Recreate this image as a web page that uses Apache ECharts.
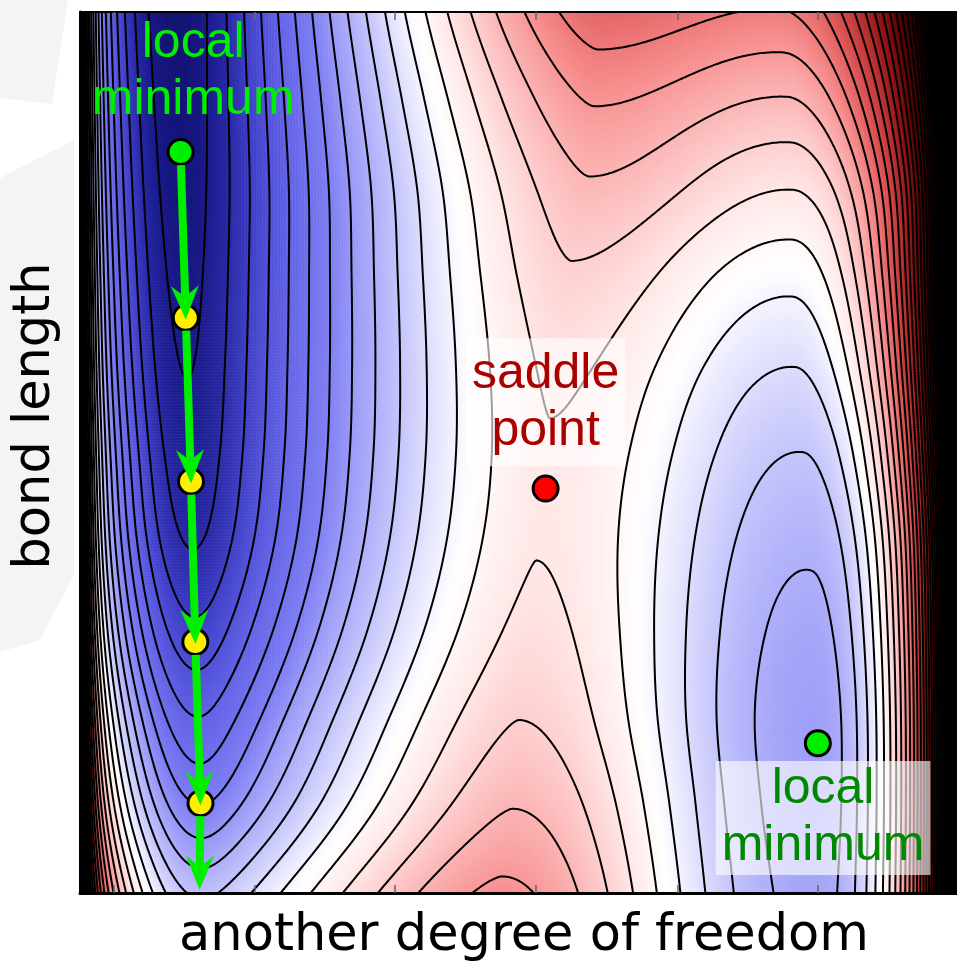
<!DOCTYPE html>
<html>
<head>
<meta charset="utf-8">
<script src="https://cdn.jsdelivr.net/npm/echarts@6/dist/echarts.min.js"></script>
<style>
  html, body { margin: 0; padding: 0; background: #ffffff; }
  #chart { width: 957px; height: 963px; }
</style>
</head>
<body>
<div id="chart"></div>
<script>
// ---------------------------------------------------------------------------
// Potential energy landscape, described row by row (v = bond length, 0 at the
// bottom of the frame, 1 at the top; u = the other coordinate, 0 left, 1 right).
// Each row is pinned by a left basin, a barrier ridge and a right basin.
// ---------------------------------------------------------------------------
const rowV = [0, 0.1, 0.2, 0.3, 0.4, 0.5, 0.6, 0.7, 0.8, 0.9, 1.0];

// deep basin on the left: floor position and floor energy
const leftFloorU = [0.140, 0.139, 0.136, 0.133, 0.130, 0.127, 0.123, 0.120, 0.117, 0.114, 0.111];
const leftFloorE = [-4.2, -7.0, -9.0, -10.8, -12.1, -12.7, -13.05, -13.3, -13.5, -13.65, -13.8];

// barrier ridge through the saddle
const ridgeU = [0.483, 0.499, 0.506, 0.518, 0.528, 0.538, 0.548, 0.563, 0.585, 0.593, 0.600];
const ridgeE = [3.25, 1.95, 0.97, 0.30, -0.05, -0.07, 0.21, 0.85, 1.85, 3.1, 4.7];

// shallow basin on the right
const rightFloorU = [0.853, 0.852, 0.850, 0.847, 0.843, 0.835, 0.825, 0.821, 0.822, 0.815, 0.805];
const rightFloorE = [-5.45, -5.65, -5.7, -5.4, -4.85, -4.05, -3.0, -1.7, 0.0, 1.9, 3.9];

// bend radius of the repulsive walls beside each basin
const leftWallC = [0.150, 0.150, 0.148, 0.145, 0.140, 0.138, 0.138, 0.138, 0.138, 0.138, 0.138];
const rightWallC = [0.161, 0.163, 0.167, 0.175, 0.185, 0.195, 0.218, 0.241, 0.270, 0.287, 0.299];

// stationary points and the descent path
const pathU = [0.116, 0.122, 0.128, 0.133, 0.139];
const pathV = [0.841, 0.653, 0.467, 0.285, 0.102];
const pathEnd = [0.138, 0.006];
const saddlePoint = [0.537, 0.459];
const rightMinimum = [0.851, 0.170];

// contour levels and tick marks
const contourLevels = [];
for (let L = -13; L <= 60; L++) contourLevels.push(L);
const xTickAt = [0.039, 0.201, 0.363, 0.526, 0.689, 0.851];

// colour scale: energy -> rgb
const palette = [
  [-13.8, [20, 20, 115]], [-13, [26, 26, 140]], [-12, [40, 40, 166]],
  [-11, [60, 60, 196]], [-10, [80, 80, 216]], [-9, [98, 98, 230]],
  [-7, [125, 125, 244]], [-5.5, [162, 162, 249]], [-4, [195, 195, 252]],
  [-2.5, [232, 232, 254]], [-1.5, [255, 255, 255]], [0, [255, 230, 230]],
  [1.5, [253, 195, 195]], [3.2, [248, 145, 145]], [4.5, [232, 108, 108]],
  [6, [212, 72, 72]], [9, [150, 25, 25]], [12, [90, 5, 5]],
  [16, [30, 0, 0]], [20, [0, 0, 0]]
];

// shape constants of the landscape model
const WALL_SLOPE = 217;      // energy per unit u far up a wall
const FLOOR_SOFT = 0.08;     // rounding of the left basin floor
const LEFT_SHAPE = 1.45;     // exponent of the rise from left basin to ridge
const EDGE_L = [12, 0.012];  // extra stiffness at the left border
const EDGE_R = [12, 0.03];   // extra stiffness at the right border
const U_MAX = 880 / 870;     // the frame runs a little past u = 1 on the right

function interpRow(arr, v) {
  const n = arr.length, h = 1 / (n - 1);
  let k = Math.floor(v / h);
  if (k < 0) k = 0;
  if (k > n - 2) k = n - 2;
  const t = (v - k * h) / h;
  const p1 = arr[k], p2 = arr[k + 1];
  const p0 = k > 0 ? arr[k - 1] : 2 * p1 - p2;
  const p3 = k + 2 < n ? arr[k + 2] : 2 * p2 - p1;
  const t2 = t * t, t3 = t2 * t;
  return 0.5 * (2 * p1 + (-p0 + p2) * t + (2 * p0 - 5 * p1 + 4 * p2 - p3) * t2 +
    (-p0 + 3 * p1 - 3 * p2 + p3) * t3);
}

function rowAt(v) {
  return {
    uL: interpRow(leftFloorU, v), fL: interpRow(leftFloorE, v),
    uR: interpRow(ridgeU, v), fR: interpRow(ridgeE, v),
    uW: interpRow(rightFloorU, v), fW: interpRow(rightFloorE, v),
    cL: interpRow(leftWallC, v), cR: interpRow(rightWallC, v)
  };
}

function energyAt(u, r) {
  let e;
  if (u <= r.uL) {
    const d = r.uL - u;
    e = r.fL + WALL_SLOPE * (Math.hypot(d, r.cL) - r.cL);
  } else if (u <= r.uR) {
    const t = (u - r.uL) / (r.uR - r.uL);
    const ts = (Math.hypot(t, FLOOR_SOFT) - FLOOR_SOFT) / (Math.hypot(1, FLOOR_SOFT) - FLOOR_SOFT);
    e = r.fL + (r.fR - r.fL) * (1 - Math.pow(1 - ts, LEFT_SHAPE));
  } else if (u <= r.uW) {
    const t = (u - r.uR) / (r.uW - r.uR);
    e = r.fR + (r.fW - r.fR) * (1 - Math.cos(Math.PI * t)) / 2;
  } else {
    const d = u - r.uW;
    e = r.fW + WALL_SLOPE * (Math.hypot(d, r.cR) - r.cR);
  }
  return e + EDGE_L[0] * Math.exp(-u / EDGE_L[1]) + EDGE_R[0] * Math.exp((u - 1) / EDGE_R[1]);
}

// ---- colour field (cells) ----
const HX = 293, HY = 294;
const CMIN = -14, CMAX = 20;
const heatData = [];
for (let j = 0; j < HY; j++) {
  const r = rowAt((j + 0.5) / HY);
  for (let i = 0; i < HX; i++) {
    const e = energyAt((i + 0.5) / HX * U_MAX, r);
    heatData.push([i, j, Math.min(CMAX, Math.max(CMIN, e))]);
  }
}
function paletteColor(e) {
  if (e <= palette[0][0]) return palette[0][1];
  for (let k = 1; k < palette.length; k++) {
    if (e <= palette[k][0]) {
      const a = palette[k - 1], b = palette[k];
      const t = (e - a[0]) / (b[0] - a[0]);
      return a[1].map((c, m) => Math.round(c + (b[1][m] - c) * t));
    }
  }
  return palette[palette.length - 1][1];
}
const rampColors = [];
for (let e = CMIN; e <= CMAX + 1e-9; e += 0.2) {
  const c = paletteColor(e);
  rampColors.push('rgb(' + c.join(',') + ')');
}

// ---- contour lines by marching squares on a finer node grid ----
const NX = 440, NY = 440;
const F = new Float64Array((NX + 1) * (NY + 1));
for (let j = 0; j <= NY; j++) {
  const r = rowAt(j / NY);
  for (let i = 0; i <= NX; i++) F[j * (NX + 1) + i] = energyAt(i / NX * U_MAX, r);
}
const HN = NX * (NY + 1);
const NE = HN + (NX + 1) * NY;
const nb1 = new Int32Array(NE).fill(-1), nb2 = new Int32Array(NE).fill(-1);
const ex = new Float64Array(NE), ey = new Float64Array(NE);
const visited = new Uint8Array(NE);

function contourLevel(L) {
  const touched = [];
  const node = (i, j) => F[j * (NX + 1) + i];
  function edgePoint(id) {
    if (nb1[id] !== -1) return;
    if (id < HN) {
      const j = Math.floor(id / NX), i = id - j * NX;
      const a = node(i, j), b = node(i + 1, j);
      ex[id] = (i + (L - a) / (b - a)) / NX * U_MAX; ey[id] = j / NY;
    } else {
      const k = id - HN, j = Math.floor(k / (NX + 1)), i = k - j * (NX + 1);
      const a = node(i, j), b = node(i, j + 1);
      ex[id] = i / NX * U_MAX; ey[id] = (j + (L - a) / (b - a)) / NY;
    }
  }
  function link(p, q) {
    edgePoint(p); edgePoint(q);
    if (nb1[p] === -1) { nb1[p] = q; touched.push(p); } else nb2[p] = q;
    if (nb1[q] === -1) { nb1[q] = p; touched.push(q); } else nb2[q] = p;
  }
  for (let j = 0; j < NY; j++) {
    for (let i = 0; i < NX; i++) {
      const a = node(i, j), b = node(i + 1, j), c = node(i + 1, j + 1), d = node(i, j + 1);
      const idx = (a > L ? 1 : 0) | (b > L ? 2 : 0) | (c > L ? 4 : 0) | (d > L ? 8 : 0);
      if (idx === 0 || idx === 15) continue;
      const eB = j * NX + i, eT = (j + 1) * NX + i;
      const eL = HN + j * (NX + 1) + i, eR = eL + 1;
      const high = (a + b + c + d) / 4 > L;
      switch (idx) {
        case 1: case 14: link(eL, eB); break;
        case 2: case 13: link(eB, eR); break;
        case 3: case 12: link(eL, eR); break;
        case 4: case 11: link(eR, eT); break;
        case 6: case 9: link(eB, eT); break;
        case 7: case 8: link(eL, eT); break;
        case 5:
          if (high) { link(eB, eR); link(eL, eT); } else { link(eL, eB); link(eR, eT); }
          break;
        case 10:
          if (high) { link(eL, eB); link(eR, eT); } else { link(eB, eR); link(eL, eT); }
          break;
      }
    }
  }
  const lines = [];
  function walk(start) {
    const pts = [];
    let prev = -1, cur = start;
    while (cur !== -1 && !visited[cur]) {
      visited[cur] = 1;
      pts.push([ex[cur], ey[cur]]);
      const nxt = nb1[cur] !== prev ? nb1[cur] : nb2[cur];
      prev = cur; cur = nxt;
    }
    if (cur === start) pts.push([ex[start], ey[start]]);
    if (pts.length > 1) lines.push(pts);
  }
  for (const id of touched) if (!visited[id] && nb2[id] === -1) walk(id);
  for (const id of touched) if (!visited[id]) walk(id);
  for (const id of touched) { nb1[id] = -1; nb2[id] = -1; visited[id] = 0; }
  return lines;
}
const contourLines = [];
for (const L of contourLevels) for (const ln of contourLevel(L)) contourLines.push(ln);

// ---- marks on the landscape ----
const pathDots = pathU.map((u, k) => ({
  value: [u, pathV[k]],
  itemStyle: { color: k === 0 ? '#00ee00' : '#ffee00' }
}));
const stationaryDots = [
  { value: saddlePoint, itemStyle: { color: '#ff0000' } },
  { value: rightMinimum, itemStyle: { color: '#00ee00' } }
];
const arrowSegments = [];
for (let k = 0; k < pathU.length; k++) {
  const to = k + 1 < pathU.length ? [pathU[k + 1], pathV[k + 1]] : pathEnd;
  arrowSegments.push([pathU[k], pathV[k], to[0], to[1]]);
}

// annotation anchors (centre of each text block)
const notes = [
  { value: [0.1305, 0.932], text: 'local\nminimum', color: '#00ee00', box: null },
  { value: [0.537, 0.557], text: 'saddle\npoint', color: '#aa0000', box: [7, 6] },
  { value: [0.857, 0.085], text: 'local\nminimum', color: '#008800', box: [0, 6] }
];

const chart = echarts.init(document.getElementById('chart'), null, { renderer: 'canvas' });
const gridRect = { left: 80, top: 12, width: 880, height: 881 };
const hiddenCat = (n) => ({
  type: 'category', data: Array.from({ length: n }, (_, k) => k),
  show: false, boundaryGap: true
});
const frameAxis = (pos, width, ticks) => ({
  type: 'value', gridIndex: 1, position: pos, min: 0,
  max: (pos === 'bottom' || pos === 'top') ? U_MAX : 1, z: 10,
  axisLine: { show: true, onZero: false, lineStyle: { color: '#000', width: width } },
  axisTick: ticks ? {
    show: true, inside: true, length: 8, customValues: ticks,
    lineStyle: { color: '#666', width: 1.5 }
  } : { show: false },
  axisLabel: { show: false }, splitLine: { show: false }
});

chart.setOption({
  animation: false,
  grid: [Object.assign({}, gridRect), Object.assign({}, gridRect)],
  xAxis: [
    Object.assign(hiddenCat(HX), { gridIndex: 0 }),
    frameAxis('bottom', 3, xTickAt),
    frameAxis('top', 2, xTickAt)
  ],
  yAxis: [
    Object.assign(hiddenCat(HY), { gridIndex: 0 }),
    frameAxis('left', 3, null),
    frameAxis('right', 2, null)
  ],
  visualMap: {
    show: false, type: 'continuous', seriesIndex: 0, dimension: 2,
    min: CMIN, max: CMAX, inRange: { color: rampColors }
  },
  series: [
    {
      type: 'heatmap', xAxisIndex: 0, yAxisIndex: 0, data: heatData,
      progressive: 0, itemStyle: { borderWidth: 0 }, emphasis: { disabled: true }, z: 1
    },
    {
      type: 'custom', xAxisIndex: 1, yAxisIndex: 1, z: 2, silent: true,
      data: contourLines.map((ln, k) => [ln[0][0], ln[0][1], k]),
      renderItem: (params, api) => ({
        type: 'polyline',
        shape: { points: contourLines[params.dataIndex].map((p) => api.coord(p)) },
        style: { stroke: '#000', lineWidth: 2, fill: 'none' },
        silent: true
      })
    },
    {
      type: 'scatter', xAxisIndex: 1, yAxisIndex: 1, z: 3, silent: true,
      symbolSize: 0, itemStyle: { opacity: 1 },
      data: notes.map((n) => ({
        value: n.value,
        label: {
          show: true, position: 'inside', formatter: n.text,
          fontFamily: 'Liberation Sans, Arial, sans-serif', fontSize: 50, lineHeight: 57,
          color: n.color, opacity: 1,
          backgroundColor: n.box ? 'rgba(255,255,255,0.62)' : 'transparent',
          padding: n.box ? n.box : 0
        }
      }))
    },
    {
      type: 'scatter', xAxisIndex: 1, yAxisIndex: 1, z: 4, silent: true,
      symbolSize: 25, data: pathDots.concat(stationaryDots),
      itemStyle: { borderColor: '#000', borderWidth: 3, opacity: 1 }
    },
    {
      type: 'custom', xAxisIndex: 1, yAxisIndex: 1, z: 5, silent: true,
      data: arrowSegments,
      renderItem: (params, api) => {
        const p1 = api.coord([api.value(0), api.value(1)]);
        const p2 = api.coord([api.value(2), api.value(3)]);
        const dx = p2[0] - p1[0], dy = p2[1] - p1[1];
        const len = Math.hypot(dx, dy), ux = dx / len, uy = dy / len;
        const nx = -uy, ny = ux;
        const headLen = 34, headHalf = 14, notch = 11, startGap = 13;
        const tip = [p2[0] + ux * 2, p2[1] + uy * 2];
        const back = [tip[0] - ux * headLen, tip[1] - uy * headLen];
        const inner = [tip[0] - ux * (headLen - notch), tip[1] - uy * (headLen - notch)];
        return {
          type: 'group',
          children: [
            {
              type: 'line',
              shape: { x1: p1[0] + ux * startGap, y1: p1[1] + uy * startGap, x2: inner[0], y2: inner[1] },
              style: { stroke: '#00ee00', lineWidth: 8 }
            },
            {
              type: 'polygon',
              shape: {
                points: [tip,
                  [back[0] + nx * headHalf, back[1] + ny * headHalf],
                  inner,
                  [back[0] - nx * headHalf, back[1] - ny * headHalf]]
              },
              style: { fill: '#00ee00', stroke: null }
            }
          ]
        };
      }
    }
  ],
  graphic: [
    {
      type: 'polygon', z: -10, silent: true,
      shape: { points: [[0, 0], [68, 0], [52, 104], [0, 98]] },
      style: { fill: '#f4f4f4' }
    },
    {
      type: 'polygon', z: -10, silent: true,
      shape: { points: [[0, 178], [74, 140], [74, 575], [40, 640], [0, 652]] },
      style: { fill: '#f4f4f4' }
    },
    {
      type: 'text', x: 524, y: 937, z: 20,
      style: {
        text: 'another degree of freedom', fontFamily: 'DejaVu Sans', fontSize: 51,
        fill: '#000', align: 'center', verticalAlign: 'middle'
      }
    },
    {
      type: 'text', x: 36, y: 416, rotation: Math.PI / 2, z: 20,
      style: {
        text: 'bond length', fontFamily: 'DejaVu Sans', fontSize: 51,
        fill: '#000', align: 'center', verticalAlign: 'middle'
      }
    }
  ]
});
</script>
</body>
</html>
